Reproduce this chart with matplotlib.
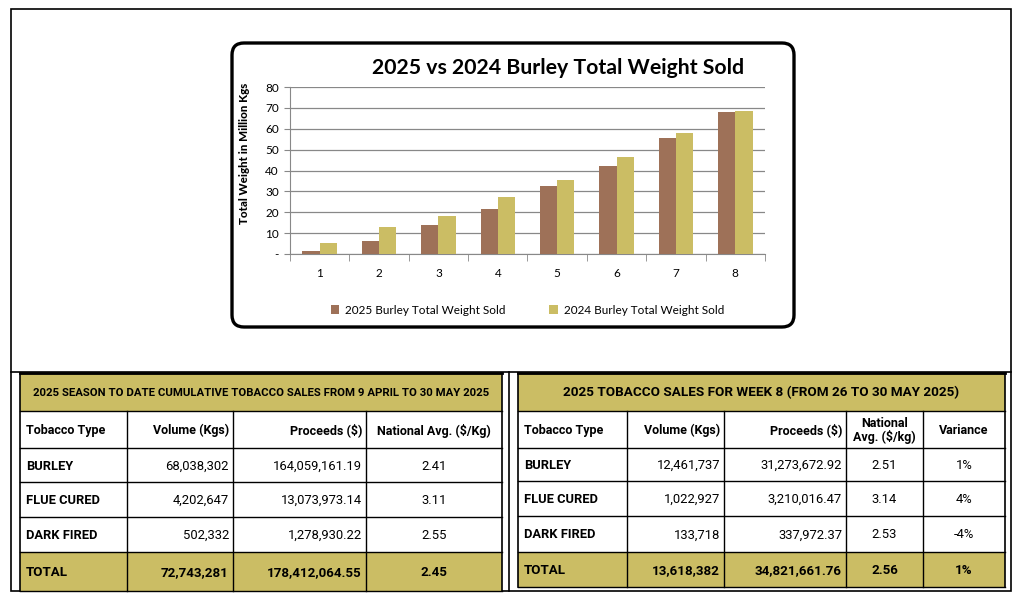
import numpy as np
import matplotlib.pyplot as plt
from matplotlib.patches import FancyBboxPatch, Rectangle

# chart data (million kgs)
weeks = [1, 2, 3, 4, 5, 6, 7, 8]
sold_2025 = [1.6, 6.2, 13.9, 21.6, 32.6, 42.2, 55.7, 68.0]
sold_2024 = [5.4, 13.0, 18.2, 27.4, 35.5, 46.6, 58.1, 68.7]
yticks = [0, 10, 20, 30, 40, 50, 60, 70, 80]
ytick_labels = ["-", "10", "20", "30", "40", "50", "60", "70", "80"]

# season-to-date table
cum_title = "2025 SEASON TO DATE CUMULATIVE TOBACCO SALES FROM 9 APRIL TO 30 MAY 2025"
cum_header = ["Tobacco Type", "Volume (Kgs)", "Proceeds ($)", "National Avg. ($/Kg)"]
cum_rows = [
    ["BURLEY", "68,038,302", "164,059,161.19", "2.41"],
    ["FLUE CURED", "4,202,647", "13,073,973.14", "3.11"],
    ["DARK FIRED", "502,332", "1,278,930.22", "2.55"],
]
cum_total = ["TOTAL", "72,743,281", "178,412,064.55", "2.45"]

# week 8 table
wk_title = "2025 TOBACCO SALES FOR WEEK 8 (FROM 26 TO 30 MAY 2025)"
wk_header = ["Tobacco Type", "Volume (Kgs)", "Proceeds ($)", "National\nAvg. ($/kg)", "Variance"]
wk_rows = [
    ["BURLEY", "12,461,737", "31,273,672.92", "2.51", "1%"],
    ["FLUE CURED", "1,022,927", "3,210,016.47", "3.14", "4%"],
    ["DARK FIRED", "133,718", "337,972.37", "2.53", "-4%"],
]
wk_total = ["TOTAL", "13,618,382", "34,821,661.76", "2.56", "1%"]

BROWN = "#9E7158"
KHAKI = "#CBBD64"
TABLE_FONT = ['Roboto', 'DejaVu Sans']
plt.rcParams['font.family'] = ['Lato', 'DejaVu Sans']

W, H = 1020, 605
fig = plt.figure(figsize=(W / 100, H / 100), dpi=100)

# full-figure overlay in pixel coords
bg = fig.add_axes([0, 0, 1, 1])
bg.set_xlim(0, W)
bg.set_ylim(H, 0)
bg.axis("off")

# outer frame and dividers
bg.add_patch(Rectangle((11, 9), 1000, 582, fill=False, lw=1.2, ec="black"))
bg.plot([11, 1011], [372, 372], color="black", lw=1.2)
bg.plot([509, 509], [372, 591], color="black", lw=1.2)

# rounded chart box
bg.add_patch(FancyBboxPatch((237, 48), 552, 274, boxstyle="round,pad=5,rounding_size=12",
                            fill=False, lw=2.4, ec="black"))


def draw_table(x_edges, y_edges, title, header, rows, total, aligns, hdr_size):
    x0, x1 = x_edges[0], x_edges[-1]
    # title band and total row fills
    bg.add_patch(Rectangle((x0, y_edges[0]), x1 - x0, y_edges[1] - y_edges[0], fc=KHAKI, ec="none"))
    bg.add_patch(Rectangle((x0, y_edges[-2]), x1 - x0, y_edges[-1] - y_edges[-2], fc=KHAKI, ec="none"))
    for y in y_edges:
        bg.plot([x0, x1], [y, y], color="black", lw=1)
    bg.plot([x0, x0], [y_edges[0], y_edges[-1]], color="black", lw=1.2)
    bg.plot([x1, x1], [y_edges[0], y_edges[-1]], color="black", lw=1.2)
    for x in x_edges[1:-1]:
        bg.plot([x, x], [y_edges[1], y_edges[-1]], color="black", lw=1)
    bg.plot([x0, x1], [y_edges[0], y_edges[0]], color="black", lw=2)
    bg.text((x0 + x1) / 2, (y_edges[0] + y_edges[1]) / 2 + 1, title, ha="center", va="center",
            fontsize=hdr_size, fontweight="bold", family=TABLE_FONT)

    all_rows = [header] + rows + [total]
    for r, row in enumerate(all_rows):
        yc = (y_edges[r + 1] + y_edges[r + 2]) / 2
        for c, val in enumerate(row):
            a = aligns[c]
            if a == "left":
                xt = x_edges[c] + 6
            elif a == "right":
                xt = x_edges[c + 1] - 4
            else:
                xt = (x_edges[c] + x_edges[c + 1]) / 2
            if r == 0:
                bold, size = True, 9.0
            elif r == len(all_rows) - 1:
                bold, size = True, 9.6
            elif c == 0:
                bold, size = True, 9.3
            else:
                bold, size = False, 9.4
            bg.text(xt, yc + 1, val, ha=a, va="center", fontsize=size, family=TABLE_FONT,
                    fontweight="bold" if bold else "normal", linespacing=1.0)


draw_table([20, 127, 233, 366, 502], [373, 411, 448, 482, 517, 552, 591],
           cum_title, cum_header, cum_rows, cum_total,
           ["left", "right", "right", "center"], 8.2)
draw_table([518, 627, 724, 846, 923, 1005], [373, 411, 448, 481, 516, 552, 587],
           wk_title, wk_header, wk_rows, wk_total,
           ["left", "right", "right", "center", "center"], 9.7)

# bar chart
ax = fig.add_axes([290 / W, 1 - 254 / H, 475 / W, 167 / H])
x = np.arange(len(weeks))
bw = 0.29
ax.bar(x - bw / 2, sold_2025, bw, color=BROWN, label="2025 Burley Total Weight Sold", zorder=3)
ax.bar(x + bw / 2, sold_2024, bw, color=KHAKI, label="2024 Burley Total Weight Sold", zorder=3)
ax.set_xlim(-0.5, len(weeks) - 0.5)
ax.set_ylim(0, 80)
ax.set_yticks(yticks)
ax.set_yticklabels(ytick_labels, fontsize=8.5)
ax.set_xticks(x)
ax.set_xticklabels([str(w) for w in weeks], fontsize=8.5)
ax.tick_params(axis="x", length=0, pad=10)
ax.set_xticks(np.arange(len(weeks) + 1) - 0.5, minor=True)
ax.tick_params(axis="x", which="minor", length=5, color="#888888")
ax.tick_params(axis="y", length=4, color="#888888", pad=4)
ax.grid(axis="y", color="#888888", lw=0.9, zorder=0)
for s in ["top", "right"]:
    ax.spines[s].set_visible(False)
ax.spines["left"].set_color("#888888")
ax.spines["bottom"].set_color("#888888")
ax.set_ylabel("Total Weight in Million Kgs", fontsize=8.3, fontweight="black")
ax.yaxis.set_label_coords(-0.084, 0.6)
ax.legend(loc="upper center", bbox_to_anchor=(0.5, -0.24), ncol=2, frameon=False,
          fontsize=8.5, handlelength=0.7, handleheight=0.7, columnspacing=3.7, handletextpad=0.5)

bg.text(558, 68, "2025 vs 2024 Burley Total Weight Sold", ha="center", va="center",
        fontsize=15.3, fontweight="bold")

fig.savefig("out.png", dpi=100)
